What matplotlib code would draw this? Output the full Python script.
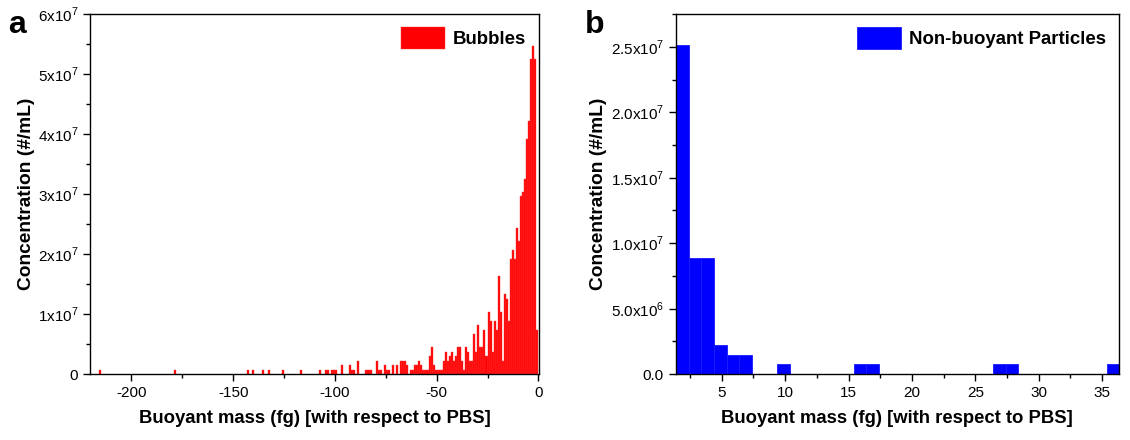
import matplotlib
matplotlib.use("Agg")
import matplotlib.pyplot as plt
from matplotlib.ticker import MultipleLocator, FixedLocator, FixedFormatter

plt.rcParams["font.family"] = ["Liberation Sans", "DejaVu Sans"]
plt.rcParams["mathtext.fontset"] = "custom"
plt.rcParams["mathtext.rm"] = "Liberation Sans"
plt.rcParams["axes.unicode_minus"] = False

# concentration that one counted particle adds (#/mL)
per_count = 7.4e5

# panel a: bubbles, 1 fg bins (left edge of each non-empty bin) and counts
bub_edges = [-216, -179, -143, -141, -136, -133, -126, -117, -108, -105, -104,
             -102, -101, -100, -97, -93, -92, -91, -89, -85, -84, -83, -80,
             -79, -78, -76, -75, -74, -72, -70, -68, -67, -66, -65, -63, -62,
             -61, -60, -59, -58, -57, -56, -55, -54, -53, -52, -51, -50, -49,
             -48, -47, -46, -45, -44, -43, -42, -41, -40, -39, -38, -37, -36,
             -35, -34, -33, -32, -31, -30, -29, -28, -27, -26, -25, -24, -23,
             -22, -21, -20, -19, -18, -17, -16, -15, -14, -13, -12, -11, -10,
             -9, -8, -7, -6, -5, -4, -3, -2, -1]
bub_counts = [1, 1, 1, 1, 1, 1, 1, 1, 1, 1, 1,
              1, 1, 1, 2, 2, 1, 1, 3, 1, 1, 1, 3,
              1, 1, 2, 1, 1, 2, 2, 3, 3, 3, 2, 1, 1,
              2, 2, 3, 2, 1, 1, 1, 4, 6, 2, 1, 1, 1,
              1, 3, 5, 3, 4, 5, 3, 4, 6, 6, 3, 1, 6,
              5, 3, 3, 9, 5, 11, 6, 6, 10, 4, 14, 12, 5,
              12, 10, 22, 14, 3, 18, 17, 12, 26, 28, 26, 33, 30,
              40, 41, 44, 53, 57, 71, 74, 71, 10]

# panel b: non-buoyant particles, 1 fg bins
part_edges = [1.4, 2.4, 3.4, 4.4, 5.4, 6.4, 9.4, 15.4, 16.4, 26.4, 27.4, 35.4]
part_counts = [34, 12, 12, 3, 2, 2, 1, 1, 1, 1, 1, 1]

bub_conc = [c * per_count for c in bub_counts]
part_conc = [c * per_count for c in part_counts]

fig = plt.figure(figsize=(11.3, 4.4), dpi=100)
ax1 = fig.add_axes([0.0796, 0.15, 0.3974, 0.818])
ax2 = fig.add_axes([0.598, 0.15, 0.392, 0.818])

ax1.bar(bub_edges, bub_conc, width=1.0, align="edge", color="#ff0000",
        edgecolor="#ff3a3a", linewidth=0.3, label="Bubbles")
ax2.bar(part_edges, part_conc, width=1.0, align="edge", color="#0000ff",
        edgecolor="#1a1aff", linewidth=0.6, label="Non-buoyant Particles")

ax1.set_xlim(-220.4, 0.3)
ax1.set_ylim(0, 6e7)
ax1.xaxis.set_major_locator(MultipleLocator(50))
ax1.xaxis.set_minor_locator(MultipleLocator(25))
ax1.yaxis.set_major_locator(FixedLocator([0, 1e7, 2e7, 3e7, 4e7, 5e7, 6e7]))
ax1.yaxis.set_major_formatter(FixedFormatter(
    ["0"] + ["%dx10$^{7}$" % i for i in range(1, 7)]))
ax1.yaxis.set_minor_locator(MultipleLocator(5e6))

ax2.set_xlim(1.38, 36.3)
ax2.set_ylim(0, 2.75e7)
ax2.xaxis.set_major_locator(MultipleLocator(5))
ax2.xaxis.set_minor_locator(MultipleLocator(2.5))
ax2.yaxis.set_major_locator(FixedLocator([0, 5e6, 1e7, 1.5e7, 2e7, 2.5e7]))
ax2.yaxis.set_major_formatter(FixedFormatter(
    ["0.0", "5.0x10$^{6}$", "1.0x10$^{7}$", "1.5x10$^{7}$",
     "2.0x10$^{7}$", "2.5x10$^{7}$"]))
ax2.yaxis.set_minor_locator(MultipleLocator(2.5e6))

for ax in (ax1, ax2):
    for sp in ax.spines.values():
        sp.set_linewidth(1.0)
        sp.set_color("black")
    ax.tick_params(which="major", direction="out", length=5, width=1,
                   labelsize=11, top=False, right=False)
    ax.tick_params(which="minor", direction="out", length=3, width=1,
                   top=False, right=False)
    ax.set_xlabel("Buoyant mass (fg) [with respect to PBS]",
                  fontsize=13.3, fontweight="bold", labelpad=7)
    ax.set_ylabel("Concentration (#/mL)", fontsize=13.8, fontweight="bold")
    ax.legend(loc="upper right", frameon=False,
              prop={"weight": "bold", "size": 13.4},
              handlelength=2.4, handleheight=1.4, handletextpad=0.4,
              borderaxespad=0.3)

ax1.yaxis.set_label_coords(-0.122, 0.5)
ax2.yaxis.set_label_coords(-0.155, 0.5)

fig.text(0.007, 0.925, "a", fontsize=23, fontweight="bold")
fig.text(0.518, 0.925, "b", fontsize=23, fontweight="bold")

fig.savefig("out.png", dpi=100)
